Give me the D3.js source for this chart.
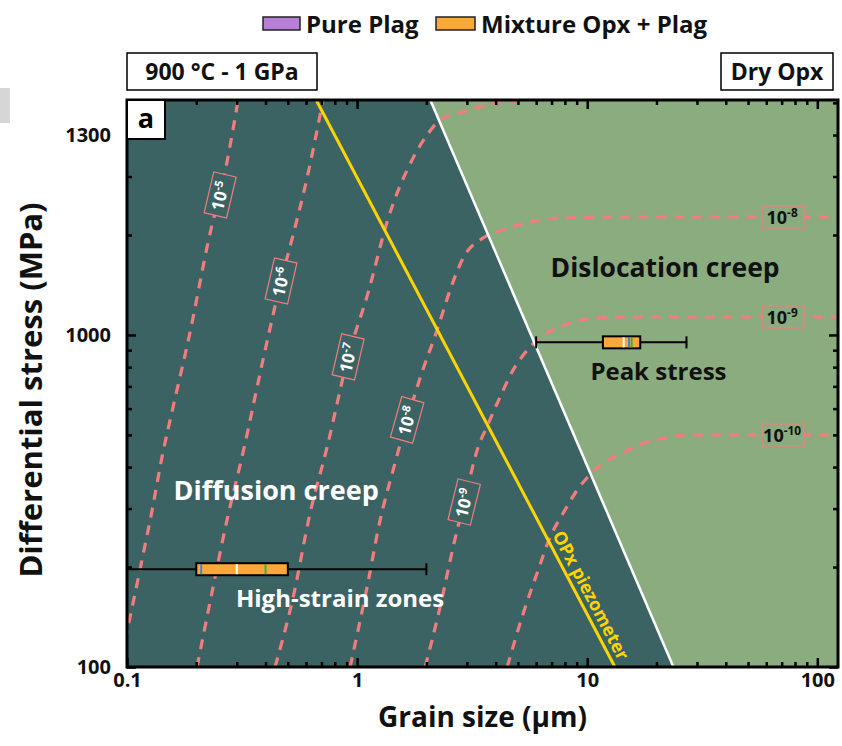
<!DOCTYPE html>
<html><head><meta charset="utf-8">
<script src="https://cdn.jsdelivr.net/npm/d3@7"></script>
<style>
body{margin:0;background:#fff;}
text{font-family:"Open Sans",sans-serif;font-weight:700;}
</style></head><body>
<svg id="chart" width="842" height="746"></svg>
<script>
// ---------------- data ----------------
const xDomain = [0.1, 123];
const yDomain = [100, 5100];
const xMajorTicks = [0.1, 1, 10, 100];
const xTickLabels = ["0.1", "1", "10", "100"];
const xMinorTicks = [0.2,0.3,0.4,0.5,0.6,0.7,0.8,0.9,2,3,4,5,6,7,8,9,20,30,40,50,60,70,80,90];
const yMajorTicks = [100, 1000];
const yMinorTicks = [200,300,400,500,600,700,800,900,2000,3000,4000,5000];
const yLabelTicks = [100, 1000, 4000];
const yTickLabels = ["100", "1000", "1300"];

// mechanism boundary (diffusion / dislocation) and piezometer line
const mechanismBoundary = [[2.08, 5100], [23.7, 100]];
const piezometer = [[0.664, 5100], [13.2, 100]];

// strain-rate contours [grain size (µm), stress (MPa)]
const contour5 = [[0.098,120],[0.105,150],[0.117,215],[0.128,292],[0.143,440],[0.158,600],[0.188,1020],[0.225,1900],[0.272,3320],[0.304,5100]];
const contour6 = [[0.2015,100],[0.2366,174],[0.272,277],[0.319,441],[0.390,841],[0.467,1454],[0.527,2000],[0.606,2970],[0.711,5100]];
const contour7 = [[0.440,100],[0.527,162],[0.625,291],[0.741,460],[0.914,859],[1.12,1350],[1.35,2190],[1.752,3414],[2.015,4004],[2.296,4443],[2.89,4696],[4.06,4998],[5.65,5105],[8,5180]];
const contour8 = [[0.932,100],[1.105,174],[1.259,277],[1.434,392],[1.650,555],[1.90,760],[2.228,1035],[2.537,1366],[2.89,1706],[3.53,1960],[4.06,2043],[5.65,2190],[7.87,2251],[15.4,2267],[126,2267]];
const contour9 = [[1.976,100],[2.296,152],[2.615,230],[2.92,314],[3.36,460],[3.67,530],[4.18,650],[4.77,785],[5.65,920],[6.70,1014],[8.44,1087],[11.05,1125],[15.4,1133],[126,1133]];
const contour10 = [[4.49,100],[5.27,145],[6.06,192],[6.90,246],[7.87,291],[9.05,341],[11.16,400],[14.2,441],[18.8,479],[30.1,500],[126,500]];
const contours = [contour5, contour6, contour7, contour8, contour9, contour10];
const contourExponents = [-5, -6, -7, -8, -9, -10];

// contour labels: exponent, grain size, stress
const diffusionLabelExp = [-5, -6, -7, -8, -9];
const diffusionLabelD = [0.254, 0.467, 0.914, 1.650, 2.92];
const diffusionLabelS = [2640, 1454, 859, 555, 314];
const dislocationLabelExp = [-8, -9, -10];
const dislocationLabelD = [71, 71, 71];
const dislocationLabelS = [2267, 1133, 500];

// box plots (Mixture Opx + Plag)
const boxNames = ["High-strain zones", "Peak stress"];
const boxStress = [197, 950];
const whiskerLow = [0.1, 6.0];
const boxQ1 = [0.20, 11.7];
const boxMedian = [0.30, 14.4];
const boxGreen = [0.40, 15.6];
const boxBlue = [0.21, 15.2];
const boxQ3 = [0.50, 17.0];
const whiskerHigh = [2.0, 27];

const legendItems = ["Pure Plag", "Mixture Opx + Plag"];
const legendColors = ["#b87fd8", "#f9a93a"];

// ---------------- drawing ----------------
const svg = d3.select("#chart");
const P = {left:127, right:838, top:100, bottom:667};
const x = d3.scaleLog().domain(xDomain).range([P.left, P.right]);
const y = d3.scaleLog().domain(yDomain).range([P.bottom, P.top]);

const C = {diff:"#3b6363", disl:"#8aac7e", dash:"#f27d7d", yellow:"#ffd400"};

svg.append("rect").attr("x",0).attr("y",88).attr("width",10).attr("height",35).attr("fill","#d6d6d6");

svg.append("defs").append("clipPath").attr("id","clip")
  .append("rect").attr("x",P.left).attr("y",P.top).attr("width",P.right-P.left).attr("height",P.bottom-P.top);

const plot = svg.append("g").attr("clip-path","url(#clip)");
const poly = d3.line().x(d=>x(d[0])).y(d=>y(d[1]));
const b0 = mechanismBoundary[0], b1 = mechanismBoundary[1];
plot.append("path").attr("d", poly([[xDomain[0],yDomain[1]], b0, b1, [xDomain[0],yDomain[0]]]) + "Z").attr("fill",C.diff);
plot.append("path").attr("d", poly([b0, [xDomain[1]*2,yDomain[1]], [xDomain[1]*2,yDomain[0]], b1]) + "Z").attr("fill",C.disl);

const curve = d3.line().x(d=>x(d[0])).y(d=>y(d[1])).curve(d3.curveMonotoneX);
contours.forEach(c=>{
  plot.append("path").attr("d",curve(c)).attr("fill","none")
    .attr("stroke",C.dash).attr("stroke-width",3.2).attr("stroke-dasharray","10,8");
});

plot.append("path").attr("d",poly(mechanismBoundary)).attr("stroke","#fff").attr("stroke-width",2.5).attr("fill","none");
plot.append("path").attr("d",poly(piezometer)).attr("stroke",C.yellow).attr("stroke-width",3).attr("fill","none");

// piezometer label
{
  const a = Math.atan2(y(piezometer[1][1])-y(piezometer[0][1]), x(piezometer[1][0])-x(piezometer[0][0]))*180/Math.PI;
  const pd = 9.3, ps = 158;
  plot.append("text").attr("transform",`translate(${x(pd)},${y(ps)}) rotate(${a})`)
    .attr("y",-6).attr("text-anchor","middle").attr("fill",C.yellow).attr("font-size",18).attr("font-weight",600).text("OPx piezometer");
}

function supText(sel, exp, fs){
  sel.append("tspan").text("10");
  sel.append("tspan").attr("font-size",fs*0.66).attr("dy",-fs*0.38).text(String(exp));
}

// diffusion labels (rotated along contour)
diffusionLabelExp.forEach((e,i)=>{
  const c = contours[contourExponents.indexOf(e)];
  const d = diffusionLabelD[i], s = diffusionLabelS[i];
  let k = 0; while(k < c.length-2 && c[k+1][0] < d) k++;
  const p0 = c[k], p1 = c[k+1];
  const a = Math.atan2(y(p1[1])-y(p0[1]), x(p1[0])-x(p0[0]))*180/Math.PI;
  const g = plot.append("g").attr("transform",`translate(${x(d)},${y(s)}) rotate(${a})`);
  g.append("rect").attr("x",-21).attr("y",-11.5).attr("width",42).attr("height",23)
    .attr("fill",C.diff).attr("stroke",C.dash).attr("stroke-width",1.2);
  const t = g.append("text").attr("x",-1).attr("y",6.5).attr("text-anchor","middle").attr("fill","#fff").attr("font-size",17);
  supText(t, e, 17);
});
// dislocation labels
dislocationLabelExp.forEach((e,i)=>{
  const g = plot.append("g").attr("transform",`translate(${x(dislocationLabelD[i])},${y(dislocationLabelS[i])})`);
  g.append("rect").attr("x",-21).attr("y",-11).attr("width",42).attr("height",22)
    .attr("fill",C.disl).attr("stroke",C.dash).attr("stroke-width",1.2);
  const t = g.append("text").attr("x",-1).attr("y",7).attr("text-anchor","middle").attr("fill","#111").attr("font-size",18);
  supText(t, e, 18);
});

// box plots
boxNames.forEach((n,i)=>{
  const cy = y(boxStress[i]);
  const g = plot.append("g");
  g.append("line").attr("x1",x(whiskerLow[i])).attr("x2",x(whiskerHigh[i])).attr("y1",cy).attr("y2",cy).attr("stroke","#000").attr("stroke-width",2);
  [whiskerLow[i], whiskerHigh[i]].forEach(v=>g.append("line").attr("x1",x(v)).attr("x2",x(v)).attr("y1",cy-6).attr("y2",cy+6).attr("stroke","#000").attr("stroke-width",2));
  g.append("rect").attr("x",x(boxQ1[i])).attr("y",cy-6).attr("width",x(boxQ3[i])-x(boxQ1[i])).attr("height",12)
    .attr("fill","#f9a93a").attr("stroke","#000").attr("stroke-width",2);
  [[boxMedian[i],"#fff"],[boxBlue[i],"#3d86d8"],[boxGreen[i],"#3fae3f"]].forEach(([v,col])=>
    g.append("line").attr("x1",x(v)).attr("x2",x(v)).attr("y1",cy-5).attr("y2",cy+5).attr("stroke",col).attr("stroke-width",2));
});

// region annotations
const notes = [
  {t:"Diffusion creep", d:0.445, s:341, fill:"#fff", fs:27},
  {t:"Dislocation creep", d:21.8, s:1591, fill:"#111", fs:26.5},
  {t:"Peak stress", d:20.4, s:774, fill:"#111", fs:24},
  {t:"High-strain zones", d:0.843, s:161, fill:"#fff", fs:24}
];
notes.forEach(n=>plot.append("text").attr("x",x(n.d)).attr("y",y(n.s)).attr("dy","0.35em")
  .attr("text-anchor","middle").attr("fill",n.fill).attr("font-size",n.fs).text(n.t));

// axes
function styleAxis(g, fs){
  g.select(".domain").remove();
  g.selectAll(".tick line").attr("stroke","#000").attr("stroke-width",2.5);
  g.selectAll(".tick text").attr("font-size",fs).attr("fill","#111").attr("font-family","Open Sans").attr("font-weight",700);
}
const ax = svg.append("g");
ax.append("g").attr("transform",`translate(0,${P.bottom})`).call(d3.axisBottom(x).tickValues(xMajorTicks).tickSize(-9).tickPadding(6).tickFormat((d,i)=>xTickLabels[i])).call(g=>styleAxis(g,20));
ax.append("g").attr("transform",`translate(0,${P.bottom})`).call(d3.axisBottom(x).tickValues(xMinorTicks).tickSize(-5).tickFormat("")).call(g=>styleAxis(g,10));
ax.append("g").attr("transform",`translate(0,${P.top})`).call(d3.axisTop(x).tickValues(xMajorTicks).tickSize(-9).tickFormat("")).call(g=>styleAxis(g,10));
ax.append("g").attr("transform",`translate(0,${P.top})`).call(d3.axisTop(x).tickValues(xMinorTicks).tickSize(-5).tickFormat("")).call(g=>styleAxis(g,10));
ax.append("g").attr("transform",`translate(${P.left},0)`).call(d3.axisLeft(y).tickValues(yMajorTicks).tickSize(-9).tickFormat("")).call(g=>styleAxis(g,10));
ax.append("g").attr("transform",`translate(${P.left},0)`).call(d3.axisLeft(y).tickValues(yMinorTicks).tickSize(-5).tickFormat("")).call(g=>styleAxis(g,10));
ax.append("g").attr("transform",`translate(${P.left},0)`).call(d3.axisLeft(y).tickValues(yLabelTicks).tickSize(0).tickPadding(16).tickFormat((d,i)=>yTickLabels[i])).call(g=>styleAxis(g,20));
ax.append("g").attr("transform",`translate(${P.right},0)`).call(d3.axisRight(y).tickValues(yMajorTicks).tickSize(-9).tickFormat("")).call(g=>styleAxis(g,10));
ax.append("g").attr("transform",`translate(${P.right},0)`).call(d3.axisRight(y).tickValues(yMinorTicks).tickSize(-5).tickFormat("")).call(g=>styleAxis(g,10));

svg.append("rect").attr("x",P.left).attr("y",P.top).attr("width",P.right-P.left).attr("height",P.bottom-P.top)
  .attr("fill","none").attr("stroke","#000").attr("stroke-width",3);

// panel letter
svg.append("rect").attr("x",P.left).attr("y",P.top).attr("width",38).attr("height",39).attr("fill","#fff").attr("stroke","#000").attr("stroke-width",2);
svg.append("text").attr("x",P.left+19).attr("y",P.top+28).attr("text-anchor","middle").attr("font-size",27).attr("font-weight",400).text("a");

// axis titles
svg.append("text").attr("x",(P.left+P.right)/2).attr("y",727).attr("text-anchor","middle").attr("font-size",28).attr("fill","#111").text("Grain size (µm)");
svg.append("text").attr("transform",`translate(42,390) rotate(-90)`).attr("text-anchor","middle").attr("font-size",31).attr("fill","#111").text("Differential stress (MPa)");

// title boxes
[["900 °C - 1 GPa",127,317],["Dry Opx",721,833]].forEach(([t,x0,x1])=>{
  svg.append("rect").attr("x",x0).attr("y",53).attr("width",x1-x0).attr("height",37).attr("fill","#fff").attr("stroke","#000").attr("stroke-width",1.5);
  svg.append("text").attr("x",(x0+x1)/2).attr("y",80).attr("text-anchor","middle").attr("font-size",23).attr("fill","#111").text(t);
});

// legend
const lg = svg.append("g");
const lgX = [263, 436];
const lgW = [37, 39];
legendItems.forEach((t,i)=>{
  lg.append("rect").attr("x",lgX[i]).attr("y",17).attr("width",lgW[i]).attr("height",13).attr("fill",legendColors[i]).attr("stroke","#222").attr("stroke-width",1.5);
  lg.append("text").attr("x",lgX[i]+lgW[i]+6).attr("y",33).attr("font-size",24).attr("fill","#111").text(t);
});
</script>
</body></html>
